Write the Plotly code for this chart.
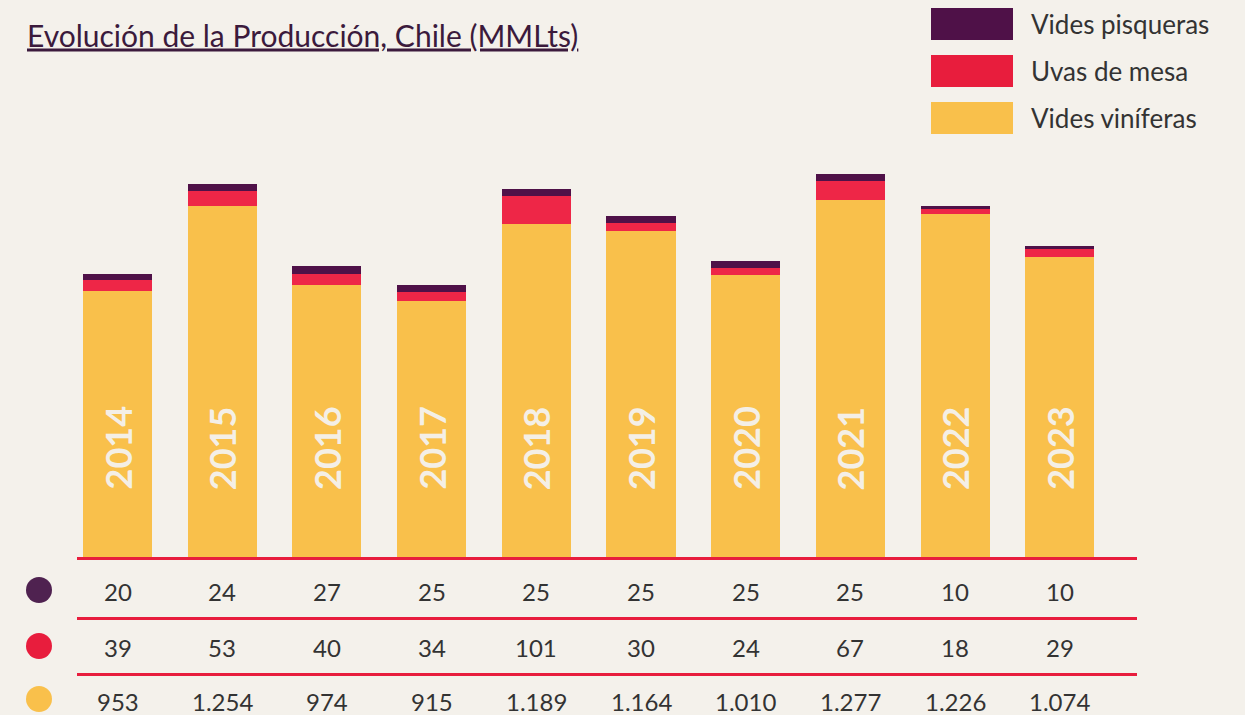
import plotly.graph_objects as go

years = ["2014", "2015", "2016", "2017", "2018", "2019", "2020", "2021", "2022", "2023"]
vides_pisqueras = [20, 24, 27, 25, 25, 25, 25, 25, 10, 10]
uvas_de_mesa = [39, 53, 40, 34, 101, 30, 24, 67, 18, 29]
vides_viniferas = [953, 1254, 974, 915, 1189, 1164, 1010, 1277, 1226, 1074]
series_names = ["Vides pisqueras", "Uvas de mesa", "Vides viníferas"]

BG = "#f4f1eb"
C_YEL = "#f9c04b"
C_RED = "#ee2647"
C_PUR = "#4f1148"
C_RED_LEG = "#e81d3d"
C_PUR_DOT = "#4f2250"
TXT = "#333333"
FONT = "Lato"

W, H = 1245, 715
base_px = 559
scale = 0.2815  # px per unit
ymax = 1400
top_px = base_px - ymax * scale
unit_px = 104.7
x0_px = 117.5


def py(p):
    return 1 - p / H


def px(p):
    return p / W


def fmt(v):
    return f"{v:,}".replace(",", ".")


fig = go.Figure()
fig.add_trace(go.Bar(x=years, y=vides_viniferas, name=series_names[2], marker_color=C_YEL,
                     marker_line_width=0, width=0.66, showlegend=False))
fig.add_trace(go.Bar(x=years, y=uvas_de_mesa, name=series_names[1], marker_color=C_RED,
                     marker_line_width=0, width=0.66, showlegend=False))
fig.add_trace(go.Bar(x=years, y=vides_pisqueras, name=series_names[0], marker_color=C_PUR,
                     marker_line_width=0, width=0.66, showlegend=False))

annotations = []
shapes = []

# years inside bars (category index positions on the x axis)
for i, y in enumerate(years):
    annotations.append(dict(x=i, xref="x", y=py(448), yref="paper", text=f"<b>{y}</b>",
                            textangle=-90, showarrow=False,
                            font=dict(family=FONT, size=36, color="#f4efe6"),
                            xanchor="center", yanchor="middle"))

# table rows
row_vals = [vides_pisqueras, uvas_de_mesa, vides_viniferas]
row_y = [591, 647, 701]
dot_y = [590, 646, 699]
dot_cols = [C_PUR_DOT, C_RED_LEG, C_YEL]
for vals, ry, dy, dc in zip(row_vals, row_y, dot_y, dot_cols):
    for i, v in enumerate(vals):
        annotations.append(dict(x=i, xref="x", y=py(ry), yref="paper", text=fmt(v),
                                showarrow=False, font=dict(family=FONT, size=24, color=TXT),
                                xanchor="center", yanchor="middle"))
    shapes.append(dict(type="circle", xref="paper", yref="paper",
                       x0=px(26), x1=px(52), y0=py(dy + 13), y1=py(dy - 13),
                       fillcolor=dc, line_width=0))

for ly in [558.5, 618.5, 674.5]:
    shapes.append(dict(type="line", xref="paper", yref="paper", x0=px(77), x1=px(1137),
                       y0=py(ly), y1=py(ly), line=dict(color=C_RED_LEG, width=3), layer="above"))

# legend
leg_cols = [C_PUR, C_RED_LEG, C_YEL]
leg_y = [24, 71, 118]
for name, c, ly in zip(series_names, leg_cols, leg_y):
    shapes.append(dict(type="rect", xref="paper", yref="paper", x0=px(931), x1=px(1013),
                       y0=py(ly + 16), y1=py(ly - 16), fillcolor=c, line_width=0))
    annotations.append(dict(x=px(1029), xref="paper", y=py(ly), yref="paper", text=name,
                            showarrow=False, xanchor="left", yanchor="middle",
                            font=dict(family=FONT, size=26, color=TXT)))

fig.update_layout(
    width=W, height=H,
    paper_bgcolor=BG, plot_bgcolor=BG,
    margin=dict(l=0, r=0, t=0, b=0),
    barmode="stack",
    title=dict(text="Evolución de la Producción, Chile (MMLts)",
               x=px(27), xanchor="left", y=py(36), yanchor="middle",
               font=dict(family=FONT, size=30, color="#3b1a3c", lineposition="under")),
    xaxis=dict(type="category", range=[-x0_px / unit_px, (W - x0_px) / unit_px],
               showgrid=False, showticklabels=False, zeroline=False, showline=False,
               ticks="", domain=[0, 1]),
    yaxis=dict(range=[0, ymax], domain=[py(base_px), py(top_px)], showgrid=False,
               showticklabels=False, zeroline=False, showline=False, ticks=""),
    annotations=annotations,
    shapes=shapes,
    showlegend=False,
    hovermode=False,
)

fig.write_html("out.html", config={"displayModeBar": False},
               post_script="document.body.style.margin='0';"
                           "document.body.style.background='" + BG + "';")
